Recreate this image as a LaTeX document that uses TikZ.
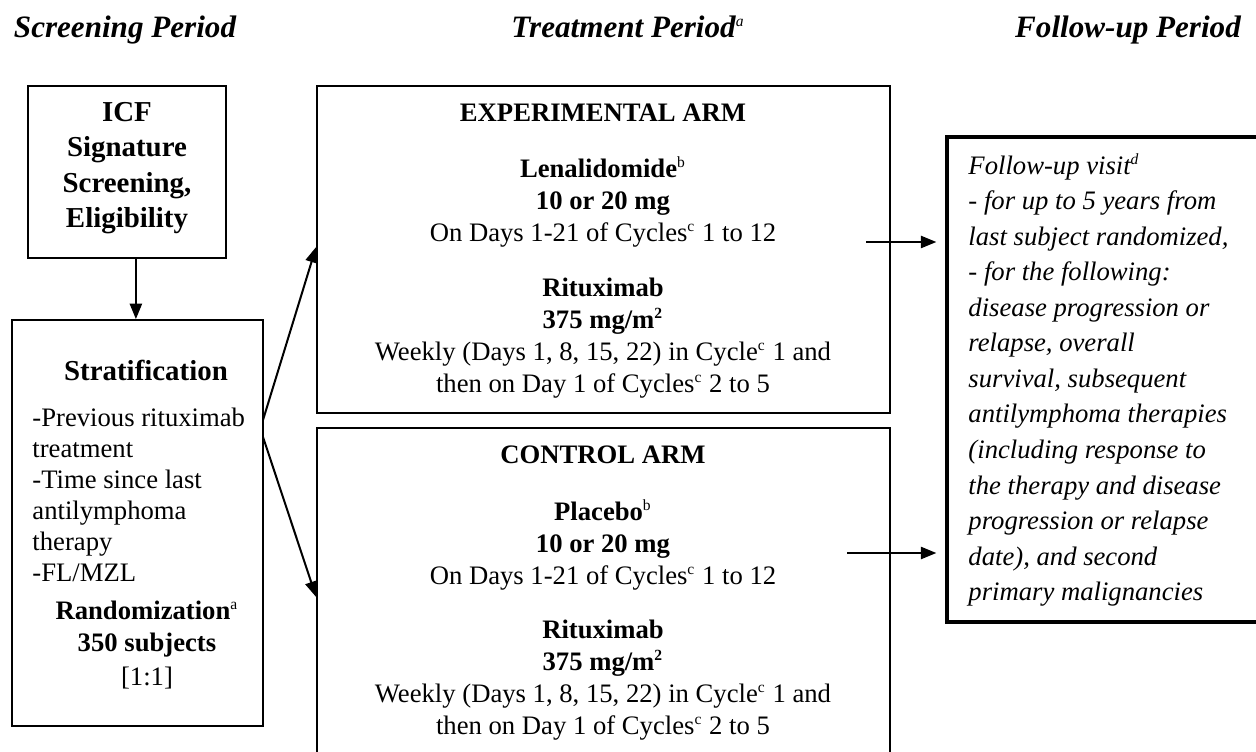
\documentclass[tikz,border=0pt]{standalone}
\usepackage{fontspec}
\setmainfont{Liberation Serif}
\usetikzlibrary{arrows.meta}

\newcommand\supmark[1]{\textsuperscript{\fontsize{7}{7}\selectfont #1}}

\tikzset{
  box/.style={draw, line width=0.8pt, rectangle, inner sep=0pt},
  heavybox/.style={draw, line width=1.6pt, rectangle, inner sep=0pt},
  txt/.style={align=center, inner sep=0pt, font=\fontsize{12}{14.4}\selectfont},
  listtxt/.style={align=left, inner sep=0pt, font=\fontsize{12}{14}\selectfont},
  fuptxt/.style={align=left, inner sep=0pt, font=\fontsize{12}{16}\selectfont\itshape},
  head/.style={inner sep=0pt, anchor=base, font=\fontsize{14}{16}\selectfont\bfseries\itshape},
  arr/.style={line width=0.9pt, -{Triangle[length=7pt,width=5.5pt]}},
}

\begin{document}
\begin{tikzpicture}[x=0.45pt,y=0.45pt,yscale=-1]
\useasboundingbox (0,0) rectangle (1256,752);
\clip (0,0) rectangle (1256,752);

% period headings
\node[head] (hscreen) at (125,38) {Screening Period};
\node[head] (htreat) at (628,38) {Treatment Period\supmark{\mdseries a}};
\node[head] (hfollow) at (1128,38) {Follow-up Period};

% boxes
\node[box, minimum width=89.1pt, minimum height=77.4pt] (icf) at (127,172) {};
\node[box, minimum width=112.95pt, minimum height=182.7pt] (strat) at (137.5,523) {};
\node[box, minimum width=257.85pt, minimum height=147.15pt] (exp) at (603.5,249.5) {};
\node[box, minimum width=257.85pt, minimum height=158.4pt] (ctrl) at (603.5,604) {};
\node[heavybox, minimum width=145.35pt, minimum height=218.25pt] (fup) at (1108.5,379.5) {};

% screening texts
\node[txt, font=\fontsize{13}{16}\selectfont\bfseries] (icftxt) at (127,168) {ICF\\Signature\\Screening,\\Eligibility};
\node[txt, font=\fontsize{13}{15}\selectfont\bfseries] (strathead) at (146,370) {Stratification};
\node[listtxt, anchor=west] (stratlist) at (32,495) {-Previous rituximab\\treatment\\-Time since last\\antilymphoma\\therapy\\-FL/MZL};
\node[txt] (rand) at (147,645) {\textbf{Randomization}\supmark{a}\\\textbf{350 subjects}\\[1pt][1:1]};

% experimental arm
\node[txt, font=\fontsize{12}{14.4}\selectfont\bfseries] (exphead) at (603,113) {EXPERIMENTAL ARM};
\node[txt] (explen) at (603,202) {\textbf{Lenalidomide}\supmark{b}\\\textbf{10 or 20 mg}\\On Days 1-21 of Cycles\supmark{c} 1 to 12};
\node[txt] (exprit) at (603,338) {\textbf{Rituximab}\\\textbf{375 mg/m\supmark{2}}\\Weekly (Days 1, 8, 15, 22) in Cycle\supmark{c} 1 and\\then on Day 1 of Cycles\supmark{c} 2 to 5};

% control arm
\node[txt, font=\fontsize{12}{14.4}\selectfont\bfseries] (ctrlhead) at (603,455) {CONTROL ARM};
\node[txt] (ctrlpla) at (603,545) {\textbf{Placebo}\supmark{b}\\\textbf{10 or 20 mg}\\On Days 1-21 of Cycles\supmark{c} 1 to 12};
\node[txt] (ctrlrit) at (603,680) {\textbf{Rituximab}\\\textbf{375 mg/m\supmark{2}}\\Weekly (Days 1, 8, 15, 22) in Cycle\supmark{c} 1 and\\then on Day 1 of Cycles\supmark{c} 2 to 5};

% follow-up
\node[fuptxt, anchor=west] (fuptext) at (968,380) {Follow-up visit\supmark{d}\\- for up to 5 years from\\last subject randomized,\\- for the following:\\disease progression or\\relapse, overall\\survival, subsequent\\antilymphoma therapies\\(including response to\\the therapy and disease\\progression or relapse\\date), and second\\primary malignancies};

% connectors
\coordinate (forka) at (263,420);
\coordinate (forkb) at (263,437);
\coordinate (expout) at (866,242);
\coordinate (ctrlout) at (847,553);
\draw[arr] ([xshift=4pt]icf.south) -- ([xshift=4pt]icf.south |- strat.north);
\draw[arr] (forka) -- (exp.west |- 0,247);
\draw[arr] (forkb) -- (ctrl.west |- 0,597);
\draw[arr, shorten >=4pt] (expout) -- (fup.west |- expout);
\draw[arr, shorten >=4pt] (ctrlout) -- (fup.west |- ctrlout);

\end{tikzpicture}
\end{document}
